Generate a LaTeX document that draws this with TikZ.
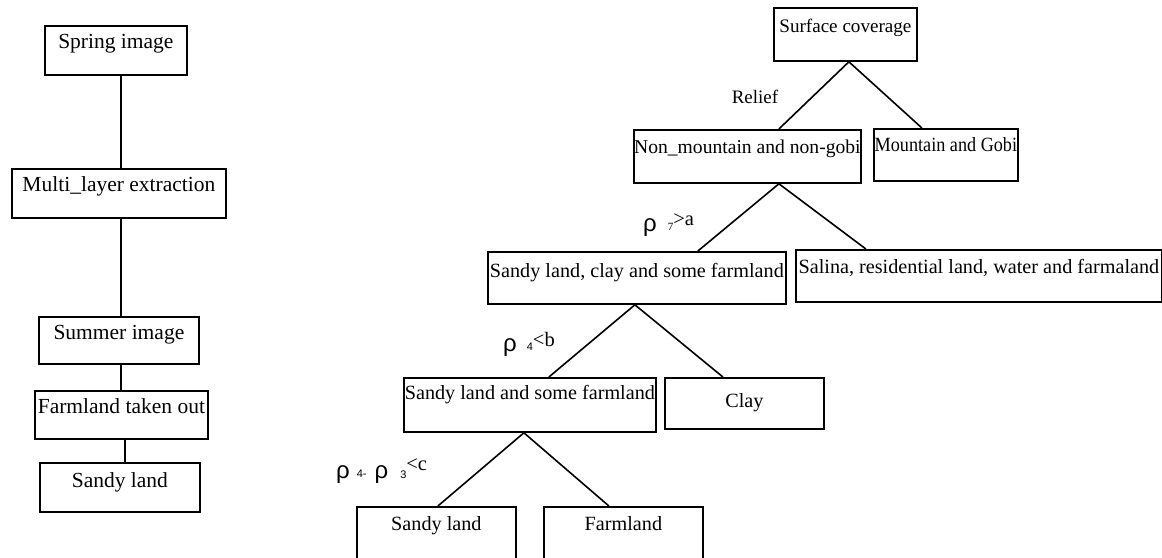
\documentclass[tikz,border=0pt]{standalone}
\usepackage{fontspec}
\usepackage{graphicx}
\setmainfont{Liberation Serif}
\newfontfamily\sansf{Liberation Sans}
\newcommand{\rh}{{\sansf\fontsize{24}{26}\selectfont ρ}}
\begin{document}
\begin{tikzpicture}[x=1pt,y=-1pt,
  bx/.style={draw, line width=1.8pt, inner sep=0pt, anchor=north west, text height=23pt,
    font=\fontsize{20.2}{24}\selectfont},
  lft/.style={font=\fontsize{21.5}{24}\selectfont},
  conn/.style={line width=1.6pt},
  lbl/.style={inner sep=0pt, anchor=base west, font=\fontsize{20.5}{24}\selectfont}]
\useasboundingbox (0,0) rectangle (1162,557);
\clip (0,0) rectangle (1162,557);
% left chain
\node[bx, lft, minimum width=142pt, text depth=26pt] (A) at (44,25) {Spring image};
\node[bx, lft, minimum width=214pt, text depth=26pt] (B) at (11,168) {Multi\_layer extraction};
\node[bx, lft, minimum width=160pt, text depth=24pt] (C) at (38,316) {Summer image};
\node[bx, lft, minimum width=173pt, text depth=25pt] (D) at (34,390) {Farmland taken out};
\node[bx, lft, minimum width=160pt, text depth=24pt, text height=25pt] (E) at (39,462) {Sandy land};
\draw[conn] ([xshift=5pt]A.south) -- ([xshift=5pt]A.south |- B.north);
\draw[conn] ([xshift=2pt]B.south) -- ([xshift=2pt]B.south |- C.north);
\draw[conn] ([xshift=2pt]C.south) -- ([xshift=2pt]C.south |- D.north);
\draw[conn] ([xshift=3.5pt]D.south) -- ([xshift=3.5pt]D.south |- E.north);
% tree
\node[bx, minimum width=143pt, text depth=28pt, text height=25pt, font=\fontsize{19.1}{24}\selectfont] (S) at (773,7) {Surface coverage};
\node[bx, minimum width=227pt, text depth=29pt, text height=24pt, font=\fontsize{19.6}{24}\selectfont] (N) at (633,129) {Non\_mountain and non-gobi};
\node[bx, minimum width=144pt, text depth=29pt, text height=23pt] (M) at (873,128) {\scalebox{0.9}[1]{Mountain and Gobi}};
\node[bx, minimum width=298pt, text depth=26pt, text height=26pt] (SC) at (487,251) {Sandy land, clay and some farmland};
\node[bx, minimum width=366pt, text depth=28pt, text height=24pt] (SA) at (795,249) {Salina, residential land, water and farmaland};
\node[bx, minimum width=252pt, text depth=32pt, text height=22pt] (SF) at (403,377) {Sandy land and some farmland};
\node[bx, minimum width=159pt, text depth=21pt, text height=30pt] (CL) at (664,377) {Clay};
\node[bx, minimum width=159pt, text depth=30pt, text height=24pt] (SL) at (356,506) {Sandy land};
\node[bx, minimum width=159pt, text depth=30pt, text height=24pt] (FL) at (543,506) {Farmland};
\draw[conn] ([xshift=31.5pt]N.north) -- ([xshift=3.5pt]S.south) -- ([xshift=-24pt]M.north);
\draw[conn] ([xshift=61pt]SC.north) -- ([xshift=31.5pt]N.south) -- ([xshift=-113pt]SA.north);
\draw[conn] ([xshift=19pt]SF.north) -- ([xshift=-2pt]SC.south) -- ([xshift=-21.5pt]CL.north);
\draw[conn] ([xshift=1.5pt]SL.north) -- ([xshift=-6pt]SF.south) -- ([xshift=-14.5pt]FL.north);
% labels
\node[inner sep=0pt, font=\fontsize{19}{22}\selectfont] (rel) at (755,97) {Relief};
\node[lbl] (r7) at (643,231) {\rh\hspace{11pt}\raisebox{0.5pt}{\fontsize{11}{11}\selectfont 7}\raisebox{6pt}{>a}};
\node[lbl] (r4) at (503,351) {\rh\hspace{10pt}\raisebox{1pt}{{\sansf\fontsize{11}{11}\selectfont 4}}\raisebox{5pt}{<b}};
\node[lbl] (r43) at (336,478) {\rh\hspace{7pt}\raisebox{1pt}{{\sansf\fontsize{11}{11}\selectfont 4-}}\hspace{8pt}\rh\hspace{12pt}\raisebox{0pt}{{\sansf\fontsize{11}{11}\selectfont 3}}\raisebox{8pt}{<c}};
\end{tikzpicture}
\end{document}
